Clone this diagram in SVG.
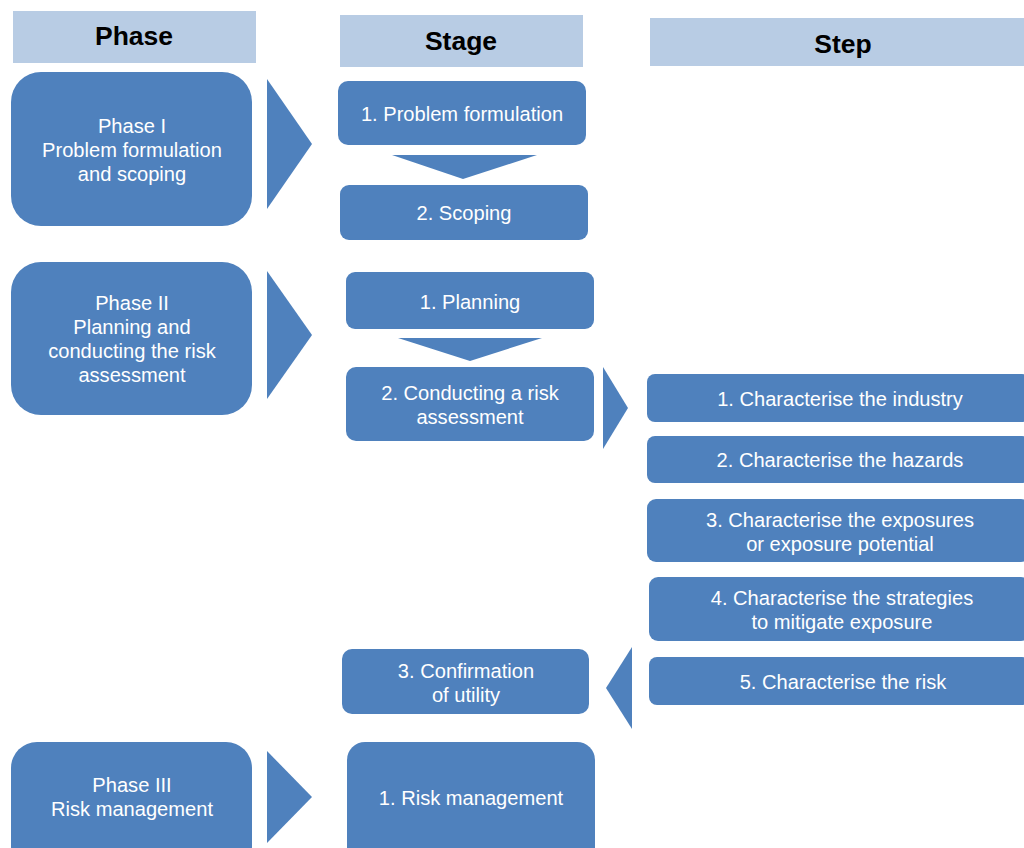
<svg xmlns="http://www.w3.org/2000/svg" width="1024" height="848" viewBox="0 0 1024 848">
<style>
.hdr{fill:#B8CCE4}
.ht{font-family:"Liberation Sans",Arial,sans-serif;font-weight:bold;font-size:26.5px;fill:#000;text-anchor:middle}
.box{fill:#4F81BD}
.t{font-family:"Liberation Sans",Arial,sans-serif;font-size:20.1px;fill:#fff;text-anchor:middle}
.arr{fill:#4F81BD}
</style>
<rect width="1024" height="848" fill="#fff"/>
<g id="headers">
<rect class="hdr" x="13" y="11" width="243" height="52"/>
<text class="ht" x="134" y="45">Phase</text>
<rect class="hdr" x="340" y="15" width="243" height="52"/>
<text class="ht" x="461" y="50">Stage</text>
<rect class="hdr" x="650" y="18" width="380" height="48"/>
<text class="ht" x="843" y="53">Step</text>
</g>
<g id="phase1">
<rect class="box" x="11" y="72" width="241" height="154" rx="30"/>
<text class="t" x="132" y="133">Phase I</text>
<text class="t" x="132" y="157">Problem formulation</text>
<text class="t" x="132" y="181">and scoping</text>
</g>
<g id="phase2">
<rect class="box" x="11" y="262" width="241" height="153" rx="30"/>
<text class="t" x="132" y="310">Phase II</text>
<text class="t" x="132" y="334">Planning and</text>
<text class="t" x="132" y="358">conducting the risk</text>
<text class="t" x="132" y="382">assessment</text>
</g>
<g id="phase3">
<rect class="box" x="11" y="742" width="241" height="130" rx="26"/>
<text class="t" x="132" y="792">Phase III</text>
<text class="t" x="132" y="816">Risk management</text>
</g>
<g id="stage1">
<rect class="box" x="338" y="81" width="248" height="64" rx="10"/>
<text class="t" x="462" y="121">1. Problem formulation</text>
</g>
<g id="stage2">
<rect class="box" x="340" y="185" width="248" height="55" rx="9"/>
<text class="t" x="464" y="220">2. Scoping</text>
</g>
<g id="stage3">
<rect class="box" x="346" y="272" width="248" height="57" rx="9"/>
<text class="t" x="470" y="309">1. Planning</text>
</g>
<g id="stage4">
<rect class="box" x="346" y="367" width="248" height="74" rx="10"/>
<text class="t" x="470" y="400">2. Conducting a risk</text>
<text class="t" x="470" y="424">assessment</text>
</g>
<g id="stage5">
<rect class="box" x="342" y="649" width="247" height="65" rx="10"/>
<text class="t" x="466" y="678">3. Confirmation</text>
<text class="t" x="466" y="702">of utility</text>
</g>
<g id="stage6">
<rect class="box" x="347" y="742" width="248" height="130" rx="18"/>
<text class="t" x="471" y="805">1. Risk management</text>
</g>
<g id="step1">
<rect class="box" x="647" y="374" width="383" height="48" rx="8"/>
<text class="t" x="840" y="406">1. Characterise the industry</text>
</g>
<g id="step2">
<rect class="box" x="647" y="436" width="383" height="47" rx="8"/>
<text class="t" x="840" y="467">2. Characterise the hazards</text>
</g>
<g id="step3">
<rect class="box" x="647" y="499" width="383" height="63" rx="9"/>
<text class="t" x="840" y="527">3. Characterise the exposures</text>
<text class="t" x="840" y="551">or exposure potential</text>
</g>
<g id="step4">
<rect class="box" x="649" y="577" width="381" height="64" rx="9"/>
<text class="t" x="842" y="605">4. Characterise the strategies</text>
<text class="t" x="842" y="629">to mitigate exposure</text>
</g>
<g id="step5">
<rect class="box" x="649" y="657" width="381" height="48" rx="8"/>
<text class="t" x="843" y="689">5. Characterise the risk</text>
</g>
<g id="connectors">
<polygon class="arr" points="267,79 312,144 267,209"/>
<polygon class="arr" points="267,271 312,335 267,399"/>
<polygon class="arr" points="267,751 312,797 267,843"/>
<polygon class="arr" points="392,155 537,155 463,179"/>
<polygon class="arr" points="398,338 542,338 470,361"/>
<polygon class="arr" points="603,367 628,408 603,449"/>
<polygon class="arr" points="632,647 606,688 632,729"/>
</g>
</svg>
